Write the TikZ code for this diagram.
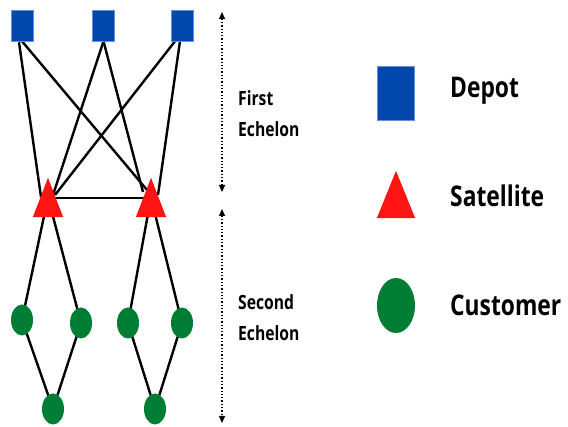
\documentclass[tikz,border=0pt]{standalone}
\usepackage{fontspec}
\usepackage{graphicx}
\setmainfont{Open Sans}
\usetikzlibrary{shapes.geometric,arrows.meta,calc}
\definecolor{depotblue}{RGB}{2,71,171}
\definecolor{satred}{RGB}{255,20,20}
\definecolor{custgreen}{RGB}{0,125,52}
\newcommand\narrowtxt[1]{\scalebox{0.8}[1]{#1}}
\pgfdeclarelayer{bg}
\pgfsetlayers{bg,main}
\begin{document}
\begin{tikzpicture}[x=1pt,y=-1pt,
  depot/.style={rectangle, fill=depotblue, draw=depotblue!60!white, line width=0.5pt,
    minimum width=22pt, minimum height=31pt, inner sep=0pt},
  satbox/.style={rectangle, inner sep=0pt, minimum width=30pt, minimum height=39pt},
  customer/.style={ellipse, fill=custgreen, inner sep=0pt,
    minimum width=22pt, minimum height=31pt},
  link/.style={line width=2.4pt, black},
  echarrow/.style={line width=1.3pt, dotted, {Triangle[width=6pt,length=7pt]}-{Triangle[width=6pt,length=7pt]}},
  echlabel/.style={font=\bfseries\fontsize{19.6}{31}\selectfont, align=left, inner sep=0pt},
  legendlabel/.style={font=\bfseries\fontsize{28.5}{34}\selectfont, inner sep=0pt, anchor=base west}]
\useasboundingbox (0,0) rectangle (568,427);

% depots
\node[depot] (d1) at (22,25.5) {};
\node[depot] (d2) at (103.5,25.5) {};
\node[depot] (d3) at (182,25.5) {};

% satellites (triangles drawn over their boxes)
\node[satbox] (s1) at (48,197.5) {};
\node[satbox] (s2) at (151,197.5) {};
\foreach \s in {s1,s2}
  \fill[satred] (\s.south west) -- (\s.south east) -- (\s.north) -- cycle;

% customers
\node[customer] (c1) at (22,320) {};
\node[customer] (c2) at (81,323) {};
\node[customer] (c3) at (128,323) {};
\node[customer] (c4) at (182,323) {};
\node[customer] (c5) at (53,409) {};
\node[customer] (c6) at (155,409) {};

\begin{pgfonlayer}{bg}
  % first echelon
  \draw[link] ($(d1.south)+(-3,1)$) -- ($(s1.center)+(-7,-0.5)$);
  \draw[link] (d1.south) -- ($(s2.center)+(-4,-7.5)$);
  \draw[link] (d2.south) -- ($(s1.center)+(5,-2.5)$);
  \draw[link] (d2.south) -- ($(s2.center)+(-8,-5.5)$);
  \draw[link] ($(d3.south)+(-7,0)$) -- ($(s1.center)+(7,-2.5)$);
  \draw[link] ($(d3.south)+(-2,0)$) -- ($(s2.center)+(7,-2.5)$);
  \draw[link] ($(s1.center)+(7,0.5)$) -- ($(s2.center)+(-4,0.5)$);
  % second echelon
  \draw[link] (s1.center) -- (c1.center);
  \draw[link] (s1.center) -- (c2.center);
  \draw[link] (s2.center) -- (c3.center);
  \draw[link] (s2.center) -- (c4.center);
  \draw[link] (c1.center) -- (c5.center);
  \draw[link] (c2.center) -- (c5.center);
  \draw[link] (c3.center) -- (c6.center);
  \draw[link] (c4.center) -- (c6.center);
\end{pgfonlayer}

% echelon extents
\coordinate (e1t) at (222,12);
\coordinate (e1b) at (222,192);
\coordinate (e2t) at (222,209);
\coordinate (e2b) at (222,423);
\draw[echarrow] (e1t) -- (e1b);
\draw[echarrow] (e2t) -- (e2b);
\node[echlabel, anchor=base west] (first) at (238,137) {\narrowtxt{First}\\\narrowtxt{Echelon}};
\node[echlabel, anchor=base west] (second) at (238,341) {\narrowtxt{Second}\\\narrowtxt{Echelon}};

% legend
\node[depot, minimum width=37pt, minimum height=54pt] (ld) at (396,93) {};
\node[satbox, minimum width=38pt, minimum height=47pt] (ls) at (396,194.5) {};
\fill[satred] (ls.south west) -- (ls.south east) -- (ls.north) -- cycle;
\node[customer, minimum width=38pt, minimum height=55pt] (lc) at (396,305.5) {};
\node[legendlabel] (tdepot) at (450,98) {\narrowtxt{Depot}};
\node[legendlabel] (tsat) at (450,207) {\narrowtxt{Satellite}};
\node[legendlabel] (tcust) at (450,316) {\narrowtxt{Customer}};
\end{tikzpicture}
\end{document}
